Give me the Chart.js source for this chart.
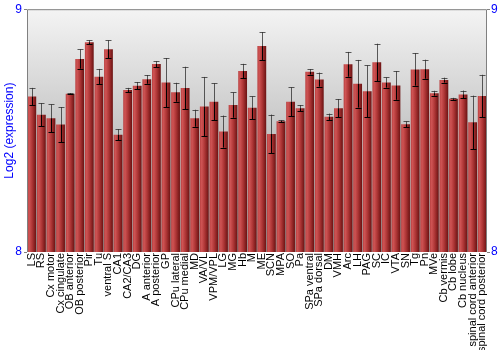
<!DOCTYPE html>
<html>
<head>
<meta charset="utf-8">
<script src="https://cdn.jsdelivr.net/npm/chart.js@4"></script>
<style>
    html, body { margin: 0; padding: 0; background: #ffffff; }
    #wrap { width: 500px; height: 350px; }
</style>
</head>
<body>
<div id="wrap"><canvas id="chart" width="500" height="350"></canvas></div>
<script>
// Brain regions
const regions = [
    'LS', 'RS', 'Cx motor', 'Cx cingulate', 'OB anterior', 'OB posterior', 'Pir', 'Tu',
    'ventral S', 'CA1', 'CA2/CA3', 'DG', 'A anterior', 'A posterior', 'GP', 'CPu lateral',
    'CPu medial', 'MD', 'VA/VL', 'VPM/VPL', 'LG', 'MG', 'Hb', 'M',
    'ME', 'SCN', 'MPA', 'SO', 'Pa', 'SPa ventral', 'SPa dorsal', 'DM',
    'VMH', 'Arc', 'LH', 'PAG', 'SC', 'IC', 'VTA', 'SN',
    'Tg', 'Pn', 'MVe', 'Cb vermis', 'Cb lobe', 'Cb nucleus', 'spinal cord anterior', 'spinal cord posterior'
];

// Mean log2 expression per region
const expression = [
    8.640, 8.565, 8.551, 8.525, 8.652, 8.795, 8.864, 8.722,
    8.835, 8.483, 8.667, 8.685, 8.711, 8.774, 8.698, 8.658,
    8.675, 8.551, 8.599, 8.619, 8.496, 8.605, 8.745, 8.594,
    8.848, 8.486, 8.539, 8.619, 8.592, 8.742, 8.710, 8.557,
    8.592, 8.773, 8.693, 8.662, 8.781, 8.698, 8.686, 8.526,
    8.752, 8.753, 8.654, 8.708, 8.631, 8.649, 8.534, 8.643
];

// Error (half-range) per region
const errors = [
    0.036, 0.048, 0.057, 0.072, 0.002, 0.040, 0.008, 0.032,
    0.037, 0.023, 0.009, 0.015, 0.018, 0.012, 0.101, 0.039,
    0.088, 0.035, 0.122, 0.076, 0.066, 0.052, 0.030, 0.047,
    0.058, 0.080, 0.004, 0.059, 0.013, 0.011, 0.029, 0.013,
    0.038, 0.051, 0.098, 0.107, 0.077, 0.021, 0.059, 0.012,
    0.067, 0.039, 0.010, 0.010, 0.004, 0.016, 0.110, 0.087
];

const yTicks = [8, 9];

const BLUE = '#0000ff';
const FONT = 'Liberation Sans, Arial, sans-serif';

// Gray gradient behind the bars
const plotBackground = {
    id: 'plotBackground',
    beforeDraw(chart) {
        const { ctx, chartArea: a } = chart;
        const g = ctx.createLinearGradient(0, a.top, 0, a.bottom);
        g.addColorStop(0, '#f4f4f4');
        g.addColorStop(1, '#989898');
        ctx.save();
        ctx.fillStyle = g;
        ctx.fillRect(a.left, a.top, a.right - a.left, a.bottom - a.top);
        ctx.restore();
    },
    afterDraw(chart) {
        const { ctx, chartArea: a } = chart;
        ctx.save();
        ctx.strokeStyle = '#808080';
        ctx.lineWidth = 1;
        ctx.beginPath();
        ctx.moveTo(a.left + 0.5, a.bottom);
        ctx.lineTo(a.left + 0.5, a.top + 0.5);
        ctx.lineTo(a.right - 0.5, a.top + 0.5);
        ctx.lineTo(a.right - 0.5, a.bottom);
        ctx.stroke();
        ctx.restore();
    }
};

// Error bars drawn through the chart's own scales
const errorBars = {
    id: 'errorBars',
    afterDatasetsDraw(chart) {
        const { ctx } = chart;
        const xs = chart.scales.x;
        const ys = chart.scales.y;
        ctx.save();
        ctx.lineWidth = 1;
        expression.forEach((v, i) => {
            const x = Math.round(xs.getPixelForValue(i)) + 0.5;
            const yHi = ys.getPixelForValue(v + errors[i]);
            const yMid = ys.getPixelForValue(v);
            const yLo = ys.getPixelForValue(v - errors[i]);
            // upper part (outside the bar) is grey
            ctx.strokeStyle = 'rgba(40, 40, 40, 0.75)';
            ctx.beginPath();
            ctx.moveTo(x, yHi);
            ctx.lineTo(x, yMid);
            ctx.moveTo(x - 3, Math.round(yHi) + 0.5);
            ctx.lineTo(x + 3, Math.round(yHi) + 0.5);
            ctx.stroke();
            // lower part (inside the bar) is black
            ctx.strokeStyle = '#000000';
            ctx.beginPath();
            ctx.moveTo(x, yMid);
            ctx.lineTo(x, yLo);
            ctx.moveTo(x - 3, Math.round(yLo) + 0.5);
            ctx.lineTo(x + 3, Math.round(yLo) + 0.5);
            ctx.stroke();
        });
        ctx.restore();
    }
};

// Horizontal red gradient for each bar
function barFill(context) {
    const chart = context.chart;
    const xs = chart.scales.x;
    if (!xs || !chart.chartArea) return '#a83030';
    const x = xs.getPixelForValue(context.dataIndex);
    const w = (xs.width / regions.length) * 0.92;
    const g = chart.ctx.createLinearGradient(x - w / 2, 0, x + w / 2, 0);
    g.addColorStop(0, '#b84040');
    g.addColorStop(0.2, '#cf5454');
    g.addColorStop(0.55, '#ad3535');
    g.addColorStop(1, '#6a1212');
    return g;
}

new Chart(document.getElementById('chart'), {
    type: 'bar',
    data: {
        labels: regions,
        datasets: [{
            data: expression,
            backgroundColor: barFill,
            borderWidth: 0,
            barPercentage: 0.92,
            categoryPercentage: 1.0
        }]
    },
    options: {
        responsive: false,
        animation: false,
        events: [],
        layout: { padding: { top: 9, left: 0, right: 0, bottom: 0 } },
        plugins: {
            legend: { display: false },
            tooltip: { enabled: false }
        },
        scales: {
            x: {
                grid: { display: false, drawTicks: false },
                border: { display: false },
                ticks: {
                    autoSkip: false,
                    maxRotation: 90,
                    minRotation: 90,
                    padding: 1,
                    color: '#000000',
                    font: { family: FONT, size: 11 }
                },
                afterFit(scale) { scale.height = 98; }
            },
            y: {
                position: 'left',
                min: 8,
                max: 9,
                afterBuildTicks(scale) { scale.ticks = yTicks.map(v => ({ value: v })); },
                grid: { drawOnChartArea: false, tickLength: 3, color: '#808080' },
                border: { display: false },
                ticks: {
                    padding: 2,
                    color: BLUE,
                    font: { family: FONT, size: 12 }
                },
                title: {
                    display: true,
                    text: 'Log2 (expression)',
                    color: BLUE,
                    padding: { top: 2, bottom: 0 },
                    font: { family: FONT, size: 12 }
                },
                afterFit(scale) { scale.width = 27; }
            },
            y2: {
                position: 'right',
                min: 8,
                max: 9,
                afterBuildTicks(scale) { scale.ticks = yTicks.map(v => ({ value: v })); },
                grid: { drawOnChartArea: false, tickLength: 3, color: '#808080' },
                border: { display: false },
                ticks: {
                    padding: 1,
                    color: BLUE,
                    font: { family: FONT, size: 12 }
                },
                afterFit(scale) { scale.width = 13; }
            }
        }
    },
    plugins: [plotBackground, errorBars]
});
</script>
</body>
</html>
